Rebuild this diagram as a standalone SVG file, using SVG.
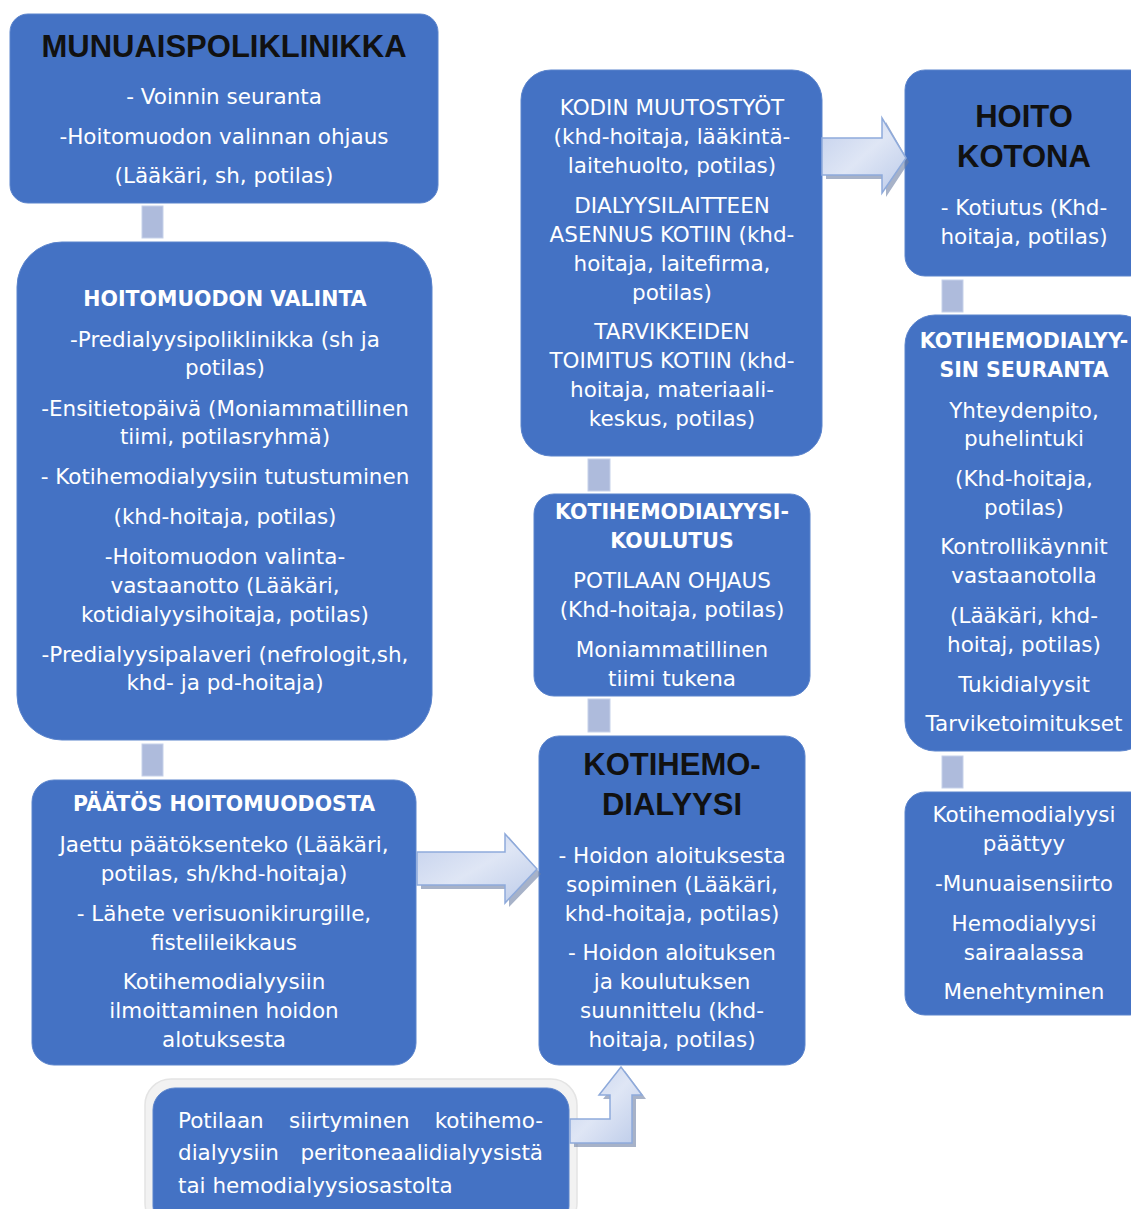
<svg xmlns="http://www.w3.org/2000/svg" width="1131" height="1209" viewBox="0 0 1131 1209">
<style>
.box{fill:#4472C4;stroke:#5b84cc;stroke-width:1}
.b{font-family:"DejaVu Sans",sans-serif;font-size:21.5px;fill:#fff;text-anchor:middle}
.t{font-family:"DejaVu Sans",sans-serif;font-weight:bold;font-size:20.5px;fill:#fff;text-anchor:middle}
.k{font-family:"Liberation Sans",Arial,sans-serif;font-weight:bold;font-size:31px;fill:#111;text-anchor:middle}
.sq{fill:#aebbdc;stroke:#c6d1ea;stroke-width:1}
.arr{fill:url(#ag);stroke:#8eaadb;stroke-width:1.5;stroke-linejoin:miter}
.sh{fill:#6d7fa3;opacity:0.6}
.s{text-anchor:start}
.e{text-anchor:end}
</style>
<defs>
<linearGradient id="ag" x1="0" y1="0" x2="1" y2="1">
<stop offset="0" stop-color="#c3d0ec"/>
<stop offset="0.5" stop-color="#dfe6f5"/>
<stop offset="1" stop-color="#bccbe9"/>
</linearGradient>
</defs>
<rect width="1131" height="1209" fill="#fff"/>

<g id="munuaispoliklinikka">
<rect class="box" x="10" y="14" width="428" height="189" rx="18"/>
<text class="k" x="224" y="57">MUNUAISPOLIKLINIKKA</text>
<text class="b" x="224" y="104">- Voinnin seuranta</text>
<text class="b" x="224" y="144">-Hoitomuodon valinnan ohjaus</text>
<text class="b" x="224" y="183">(Lääkäri, sh, potilas)</text>
</g>

<g id="hoitomuodon-valinta">
<rect class="box" x="17" y="242" width="415" height="498" rx="45"/>
<text class="t" x="225" y="306">HOITOMUODON VALINTA</text>
<text class="b" x="225" y="347">-Predialyysipoliklinikka (sh ja</text>
<text class="b" x="225" y="375">potilas)</text>
<text class="b" x="225" y="416">-Ensitietopäivä (Moniammatillinen</text>
<text class="b" x="225" y="444">tiimi, potilasryhmä)</text>
<text class="b" x="225" y="484">- Kotihemodialyysiin tutustuminen</text>
<text class="b" x="225" y="524">(khd-hoitaja, potilas)</text>
<text class="b" x="225" y="564">-Hoitomuodon valinta-</text>
<text class="b" x="225" y="593">vastaanotto (Lääkäri,</text>
<text class="b" x="225" y="622">kotidialyysihoitaja, potilas)</text>
<text class="b" x="225" y="662">-Predialyysipalaveri (nefrologit,sh,</text>
<text class="b" x="225" y="690">khd- ja pd-hoitaja)</text>
</g>

<g id="paatos">
<rect class="box" x="32" y="780" width="384" height="285" rx="22"/>
<text class="t" x="224" y="811">PÄÄTÖS HOITOMUODOSTA</text>
<text class="b" x="224" y="852">Jaettu päätöksenteko (Lääkäri,</text>
<text class="b" x="224" y="881">potilas, sh/khd-hoitaja)</text>
<text class="b" x="224" y="921">- Lähete verisuonikirurgille,</text>
<text class="b" x="224" y="950">fistelileikkaus</text>
<text class="b" x="224" y="989">Kotihemodialyysiin</text>
<text class="b" x="224" y="1018">ilmoittaminen hoidon</text>
<text class="b" x="224" y="1047">alotuksesta</text>
</g>

<g id="kotihemodialyysi">
<rect class="box" x="539" y="736" width="266" height="329" rx="20"/>
<text class="k" x="672" y="775">KOTIHEMO-</text>
<text class="k" x="672" y="815">DIALYYSI</text>
<text class="b" x="672" y="863">- Hoidon aloituksesta</text>
<text class="b" x="672" y="892">sopiminen (Lääkäri,</text>
<text class="b" x="672" y="921">khd-hoitaja, potilas)</text>
<text class="b" x="672" y="960">- Hoidon aloituksen</text>
<text class="b" x="672" y="989">ja koulutuksen</text>
<text class="b" x="672" y="1018">suunnittelu (khd-</text>
<text class="b" x="672" y="1047">hoitaja, potilas)</text>
</g>

<g id="koulutus">
<rect class="box" x="534" y="494" width="276" height="202" rx="20"/>
<text class="t" x="672" y="519">KOTIHEMODIALYYSI-</text>
<text class="t" x="672" y="548">KOULUTUS</text>
<text class="b" x="672" y="588">POTILAAN OHJAUS</text>
<text class="b" x="672" y="617">(Khd-hoitaja, potilas)</text>
<text class="b" x="672" y="657">Moniammatillinen</text>
<text class="b" x="672" y="686">tiimi tukena</text>
</g>

<g id="kodin-muutostyot">
<rect class="box" x="521" y="70" width="301" height="386" rx="30"/>
<text class="b" x="672" y="115">KODIN MUUTOSTYÖT</text>
<text class="b" x="672" y="144">(khd-hoitaja, lääkintä-</text>
<text class="b" x="672" y="173">laitehuolto, potilas)</text>
<text class="b" x="672" y="213">DIALYYSILAITTEEN</text>
<text class="b" x="672" y="242">ASENNUS KOTIIN (khd-</text>
<text class="b" x="672" y="271">hoitaja, laitefirma,</text>
<text class="b" x="672" y="300">potilas)</text>
<text class="b" x="672" y="339">TARVIKKEIDEN</text>
<text class="b" x="672" y="368">TOIMITUS KOTIIN (khd-</text>
<text class="b" x="672" y="397">hoitaja, materiaali-</text>
<text class="b" x="672" y="426">keskus, potilas)</text>
</g>

<g id="hoito-kotona">
<rect class="box" x="905" y="70" width="245" height="206" rx="20"/>
<text class="k" x="1024" y="127">HOITO</text>
<text class="k" x="1024" y="167">KOTONA</text>
<text class="b" x="1024" y="215">- Kotiutus (Khd-</text>
<text class="b" x="1024" y="244">hoitaja, potilas)</text>
</g>

<g id="seuranta">
<rect class="box" x="905" y="315" width="245" height="436" rx="30"/>
<text class="t" x="1024" y="348">KOTIHEMODIALYY-</text>
<text class="t" x="1024" y="377">SIN SEURANTA</text>
<text class="b" x="1024" y="418">Yhteydenpito,</text>
<text class="b" x="1024" y="446">puhelintuki</text>
<text class="b" x="1024" y="486">(Khd-hoitaja,</text>
<text class="b" x="1024" y="515">potilas)</text>
<text class="b" x="1024" y="554">Kontrollikäynnit</text>
<text class="b" x="1024" y="583">vastaanotolla</text>
<text class="b" x="1024" y="623">(Lääkäri, khd-</text>
<text class="b" x="1024" y="652">hoitaj, potilas)</text>
<text class="b" x="1024" y="692">Tukidialyysit</text>
<text class="b" x="1024" y="731">Tarviketoimitukset</text>
</g>

<g id="paattyy">
<rect class="box" x="905" y="792" width="245" height="223" rx="20"/>
<text class="b" x="1024" y="822">Kotihemodialyysi</text>
<text class="b" x="1024" y="851">päättyy</text>
<text class="b" x="1024" y="891">-Munuaisensiirto</text>
<text class="b" x="1024" y="931">Hemodialyysi</text>
<text class="b" x="1024" y="960">sairaalassa</text>
<text class="b" x="1024" y="999">Menehtyminen</text>
</g>

<g id="siirtyminen">
<rect x="145" y="1079" width="432" height="150" rx="26" fill="#f2f2f2" stroke="#e4e4e4" stroke-width="1.5"/>
<rect class="box" x="153" y="1088" width="416" height="140" rx="22"/>
<text class="b s" y="1128"><tspan x="178">Potilaan</tspan> <tspan x="289">siirtyminen</tspan> <tspan x="543" class="e">kotihemo-</tspan></text>
<text class="b s" y="1160"><tspan x="178">dialyysiin</tspan> <tspan x="543" class="e">peritoneaalidialyysistä</tspan></text>
<text class="b s" x="178" y="1193">tai hemodialyysiosastolta</text>
</g>

<g id="connectors">
<rect class="sq" x="142" y="206" width="21" height="32"/>
<rect class="sq" x="142" y="744" width="21" height="32"/>
<rect class="sq" x="588" y="459" width="22" height="32"/>
<rect class="sq" x="588" y="699" width="22" height="33"/>
<rect class="sq" x="942" y="280" width="21" height="32"/>
<rect class="sq" x="942" y="756" width="21" height="32"/>
<g id="arrow1">
<path class="sh" d="M421,856 L509,856 L509,837 L541,874 L509,907 L509,889 L421,889 Z"/>
<path class="arr" d="M417,852 L505,852 L505,834 L537,869 L505,903 L505,885 L417,885 Z"/>
</g>
<g id="arrow2">
<path class="sh" d="M826,142 L886,142 L886,122 L909,162 L886,197 L886,179 L826,179 Z"/>
<path class="arr" d="M822,138 L882,138 L882,118 L906,158 L882,193 L882,175 L822,175 Z"/>
</g>
<g id="arrow3">
<path class="sh" d="M574,1123 L614,1123 L614,1099 L603,1099 L625,1071 L646,1099 L636,1099 L636,1147 L574,1147 Z"/>
<path class="arr" d="M570,1119 L610,1119 L610,1095 L599,1095 L621,1067 L642,1095 L632,1095 L632,1143 L570,1143 Z"/>
</g>
</g>
</svg>
